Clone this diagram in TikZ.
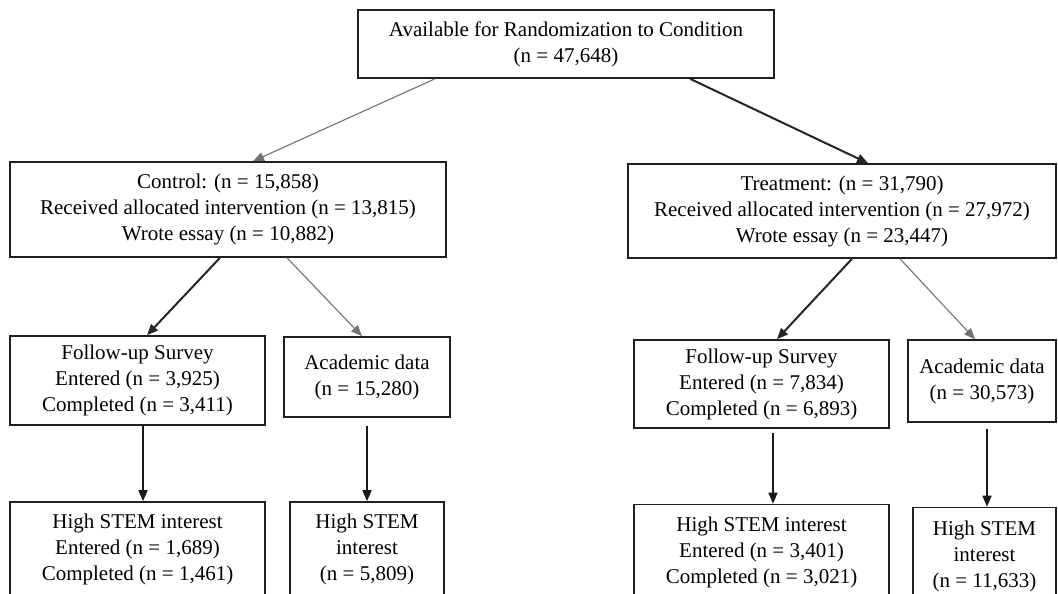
\documentclass[tikz,border=0pt]{standalone}
\usepackage{fontspec}
\setmainfont{Liberation Serif}
\usetikzlibrary{arrows.meta}
\tikzset{
  box/.style={draw=black!88, line width=1.6pt, rectangle, inner sep=0pt, align=center,
    font=\fontsize{21pt}{26pt}\selectfont},
  thinarrow/.style={draw=black!55, line width=1.1pt, -{Triangle[length=11pt,width=9pt]}},
  thickarrow/.style={draw=black!85, line width=2pt, -{Triangle[length=11pt,width=9pt]}},
  vertarrow/.style={draw=black!90, line width=1.6pt, -{Triangle[length=11pt,width=9pt]}},
}
\begin{document}
\begin{tikzpicture}[x=1pt,y=-1pt]
\useasboundingbox (0,0) rectangle (1058,594);
\clip (0,0) rectangle (1058,594);
\fill[white] (0,0) rectangle (1058,594);

\node[box, minimum width=416pt, minimum height=68pt] (top) at (566,44)
  {Available for Randomization to Condition\\(n = 47,648)};

\node[box, minimum width=436pt, minimum height=95pt] (ctrl) at (228,209.5)
  {Control: (n = 15,858)\\Received allocated intervention (n = 13,815)\\Wrote essay (n = 10,882)};
\node[box, minimum width=428pt, minimum height=94pt] (trt) at (842,211)
  {Treatment: (n = 31,790)\\Received allocated intervention (n = 27,972)\\Wrote essay (n = 23,447)};

\node[box, minimum width=255pt, minimum height=89pt] (fuL) at (137.5,380.5)
  {Follow-up Survey\\Entered (n = 3,925)\\Completed (n = 3,411)};
\node[box, minimum width=166pt, minimum height=80pt] (acL) at (367,377)
  {Academic data\\(n = 15,280)};
\node[box, minimum width=255pt, minimum height=88pt] (fuR) at (761.5,384)
  {Follow-up Survey\\Entered (n = 7,834)\\Completed (n = 6,893)};
\node[box, minimum width=148pt, minimum height=82pt] (acR) at (982,381)
  {Academic data\\(n = 30,573)};

\node[box, minimum width=255pt, minimum height=94pt] (hsL) at (137.5,549)
  {High STEM interest\\Entered (n = 1,689)\\Completed (n = 1,461)};
\node[box, minimum width=154pt, minimum height=94pt] (hsL2) at (367,549)
  {High STEM\\interest\\(n = 5,809)};
\node[box, minimum width=255pt, minimum height=95pt] (hsR) at (761.5,552)
  {High STEM interest\\Entered (n = 3,401)\\Completed (n = 3,021)};
\node[box, minimum width=143pt, minimum height=97pt] (hsR2) at (984.5,556)
  {High STEM\\interest\\(n = 11,633)};

\draw[thinarrow] ([xshift=-131pt]top.south) -- ([xshift=25pt]ctrl.north);
\draw[thickarrow] ([xshift=124pt]top.south) -- ([xshift=26pt]trt.north);

\draw[thickarrow] ([xshift=-8pt]ctrl.south) -- ([xshift=9.5pt]fuL.north);
\draw[thinarrow] ([xshift=59pt]ctrl.south) -- ([xshift=-5pt]acL.north);
\draw[thickarrow] ([xshift=10pt]trt.south) -- ([xshift=15.5pt]fuR.north);
\draw[thinarrow] ([xshift=58pt]trt.south) -- ([xshift=-7pt]acR.north);

\draw[vertarrow] ([xshift=5.5pt]fuL.south) -- ([xshift=5.5pt]hsL.north);
\draw[vertarrow] ([yshift=-8pt]acL.south) -- (hsL2.north);
\draw[vertarrow] ([xshift=11.5pt,yshift=-4pt]fuR.south) -- ([xshift=11.5pt]hsR.north);
\draw[vertarrow] ([xshift=5pt,yshift=-6pt]acR.south) -- ([xshift=2.5pt]hsR2.north);
\end{tikzpicture}
\end{document}
